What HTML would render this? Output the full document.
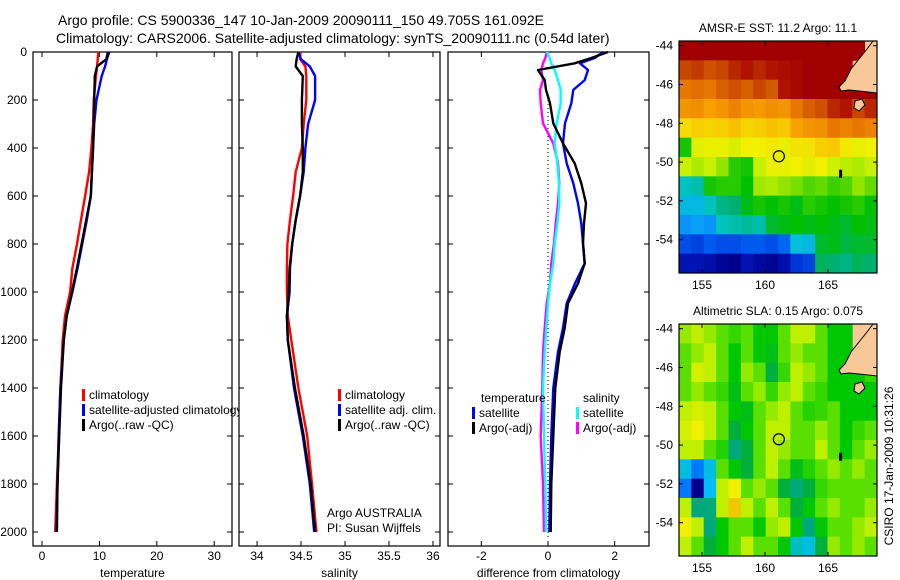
<!DOCTYPE html>
<html><head><meta charset="utf-8"><style>
html,body{margin:0;padding:0;background:#fff}
svg{display:block}
text{font-family:"Liberation Sans",sans-serif;fill:#000}
</style></head><body>
<svg id="fig" width="900" height="580" viewBox="0 0 900 580"></svg>
<script>
// ---------- DATA ----------
const profDepth = [0,30,60,100,200,300,400,500,600,700,800,900,1000,1100,1200,1400,1600,1800,2000];
const tempClim = [9.8,9.7,9.6,9.4,9.0,8.9,8.6,8.2,7.5,6.8,6.1,5.3,4.9,4.0,3.6,3.2,2.9,2.6,2.3];
const tempSat  = [11.7,11.3,11.0,10.4,9.5,9.1,8.9,8.7,8.5,7.8,7.0,6.2,5.3,4.3,3.8,3.2,2.9,2.7,2.5];
const tempArgo = [11.5,11.2,9.6,9.2,9.1,9.0,8.9,8.7,8.5,7.7,6.9,6.1,5.2,4.3,3.8,3.3,3.0,2.7,2.6];
const salClim = [34.49,34.49,34.55,34.56,34.56,34.53,34.51,34.44,34.41,34.375,34.345,34.34,34.34,34.35,34.39,34.47,34.57,34.625,34.675];
const salSat  = [34.47,34.5,34.6,34.66,34.66,34.58,34.55,34.53,34.49,34.44,34.40,34.375,34.37,34.34,34.35,34.42,34.52,34.6,34.65];
const salArgo = [34.47,34.45,34.44,34.52,34.51,34.51,34.52,34.52,34.49,34.44,34.40,34.37,34.36,34.34,34.35,34.43,34.53,34.61,34.66];
const diffDepth = [0,25,47,75,117,158,214,297,381,464,547,631,714,797,881,964,1047,1150,1250,1400,1600,1800,2000];
const dTempSat  = [1.65,1.4,0.96,1.2,1.1,0.76,0.7,0.51,0.45,0.56,0.76,0.9,1.0,1.05,1.1,0.81,0.56,0.45,0.3,0.16,0.1,0.06,0.04];
const dTempArgo = [1.8,1.3,0.8,-0.3,-0.1,-0.06,0.06,0.16,0.45,0.8,1.0,1.14,1.08,1.05,1.1,0.9,0.6,0.5,0.35,0.22,0.16,0.1,0.08];
const dSalSat   = [-0.03,0.05,0.1,0.2,0.3,0.38,0.38,0.26,0.2,0.28,0.33,0.34,0.28,0.2,0.16,0.06,0.0,-0.05,-0.1,-0.15,-0.12,-0.08,-0.06];
const dSalArgo  = [-0.03,-0.08,-0.15,-0.2,-0.15,-0.24,-0.22,-0.15,0.16,0.3,0.34,0.3,0.23,0.18,0.1,0.06,-0.04,-0.1,-0.15,-0.17,-0.22,-0.15,-0.12];
const depthTicks = [0,200,400,600,800,1000,1200,1400,1600,1800,2000];
const tempTicks = [0,10,20,30];
const salTicks = [34,34.5,35,35.5,36];
const salTickLabels = ["34","34.5","35","35.5","36"];
const diffTicks = [-2,0,2];
const lonTicks = [155,160,165];
const latTicks = [-44,-46,-48,-50,-52,-54];
const sstGrid = [
[12.6,12.6,12.6,12.5,12.6,12.6,12.5,12.6,12.6,12.6,12.6,12.6,12.6,12.6,12.6,null],
[11.0,11.2,10.8,11.0,11.5,11.8,11.5,11.8,12.0,12.2,12.5,12.6,12.6,12.6,null,null],
[10.0,10.2,10.0,10.5,10.8,10.5,11.0,10.6,11.8,12.2,12.5,12.6,12.6,12.5,12.5,12.5],
[9.5,9.6,9.3,9.5,9.8,9.5,9.4,9.6,9.5,10.0,10.5,10.8,11.5,11.8,11.0,11.5],
[8.4,8.6,8.5,8.6,8.8,8.5,8.6,8.8,8.7,9.3,9.5,9.6,10.0,9.8,10.0,9.8],
[6.5,7.9,8.0,8.0,7.8,8.1,8.1,8.2,8.0,8.3,8.3,8.6,8.7,8.2,8.0,8.1],
[7.6,7.4,7.6,7.2,6.6,6.5,7.6,8.0,8.0,8.1,7.9,8.1,7.7,7.5,7.4,7.6],
[5.5,5.6,6.5,6.6,6.6,6.4,7.3,7.4,7.2,7.0,6.8,6.9,6.7,6.8,7.2,6.9],
[5.2,5.2,5.5,5.8,5.9,6.3,6.5,6.4,6.5,6.3,6.6,6.5,6.4,6.5,6.6,6.4],
[4.8,4.9,4.8,5.5,5.6,5.7,5.6,6.2,6.3,6.4,6.3,6.4,6.3,6.2,6.4,6.3],
[4.2,4.1,4.3,4.2,4.2,4.3,4.3,4.2,4.4,5.3,5.2,6.2,6.3,6.1,6.2,6.2],
[3.6,3.6,3.5,3.3,3.2,3.6,3.4,3.3,3.5,4.0,4.1,6.0,5.9,5.8,6.0,5.9]
];
const slaGrid = [
[.08,.1,.08,.05,.03,.05,0,0,.05,.1,.1,.05,0,0,null,null],
[.05,.08,.1,.05,0,.05,0,-.02,.05,.08,.05,.05,0,0,null,null],
[.05,.12,.1,.05,0,.08,.05,-.05,.03,.1,.08,.05,0,0,0,.03],
[.05,.08,.05,.03,-.02,.05,.08,.03,.08,.1,.05,.03,0,0,0,0],
[.1,.12,.1,.05,0,-.02,.05,.08,.1,.05,.02,.03,.05,0,0,0],
[.12,.15,.1,.05,-.05,0,.05,.1,.1,.05,.05,.08,.05,0,.03,.05],
[.1,.1,.05,.02,-.1,-.05,.05,.1,.08,.05,.05,.1,.05,0,.05,.08],
[-.2,-.3,-.2,.05,0,-.05,.05,.1,.05,-.02,.02,.05,.08,.05,.08,.05],
[-.3,-.45,-.25,.1,.15,.05,.08,.05,-.05,-.1,-.05,.03,.05,.05,.05,.05],
[.1,-.1,-.1,.1,.2,.1,.05,.1,.05,-.05,0,.05,.08,.05,.05,.08],
[.15,.1,-.1,0,.05,.05,0,.08,.1,0,-.1,0,.05,.05,.08,.1],
[.1,.05,-.05,0,.05,.1,.05,.05,0,-.15,-.2,-.05,.08,.05,.08,.05]
];
const argoLon = [161.1];
const argoLat = [-49.7];

// ---------- HELPERS ----------
const NS="http://www.w3.org/2000/svg";
const svg=document.getElementById('fig');
function mk(tag,attrs,parent){const e=document.createElementNS(NS,tag);for(const k in attrs)e.setAttribute(k,attrs[k]);(parent||svg).appendChild(e);return e;}
function txt(s,x,y,anchor,size,parent){const t=mk('text',{x:x,y:y,'text-anchor':anchor||'start','font-size':size||12},parent);t.textContent=s;return t;}

const yTop=52, yPerUnit=48/200;
function yD(d){return yTop+d*yPerUnit;}
const panels=[
 {name:'temperature',x0:33,x1:232,vmin:-1.57,vmax:33.1},
 {name:'salinity',x0:239,x1:440,vmin:33.795,vmax:36.08},
 {name:'difference',x0:448,x1:649,vmin:-3.0,vmax:3.03}
];
function sx(p,v){return p.x0+(v-p.vmin)/(p.vmax-p.vmin)*(p.x1-p.x0);}
const yBot=546;

let t=txt('Argo profile: CS 5900336_147 10-Jan-2009 20090111_150 49.705S 161.092E',58,25,'start',14);


t=txt('Climatology: CARS2006. Satellite-adjusted climatology: synTS_20090111.nc (0.54d later)',56,43,'start',14);



function drawPanel(p,idx,xt,xtl,xlabel){
 const g=mk('g',{});
 
 
 const r=mk('rect',{x:p.x0,y:yTop,width:p.x1-p.x0,height:yBot-yTop,fill:'#fff',stroke:'#000','stroke-width':1.2},g);
 
 
 depthTicks.forEach(d=>{
  const y=yD(d);
  const a=mk('line',{x1:p.x0,x2:p.x0+5,y1:y,y2:y,stroke:'#000'},g);
  
  
  const b=mk('line',{x1:p.x1-5,x2:p.x1,y1:y,y2:y,stroke:'#000'},g);
  
  
  if(idx===0){const l=txt(String(d),27,y+4,'end',12,g);
   
   }
 });
 xt.forEach((v,i)=>{
  const x=sx(p,v);
  const a=mk('line',{x1:x,x2:x,y1:yTop,y2:yTop+5,stroke:'#000'},g);
  
  
  const b=mk('line',{x1:x,x2:x,y1:yBot-5,y2:yBot,stroke:'#000'},g);
  
  
  const l=txt(xtl[i],x,560,'middle',12,g);
  
  
 });
 const xl=txt(xlabel,(p.x0+p.x1)/2,577,'middle',12,g);
 
 
 return g;
}
function series(p,g,depths,vals,color,name,w){
 const pts=[];
 for(let i=0;i<vals.length;i++){
  pts.push(sx(p,vals[i]).toFixed(1)+','+yD(depths[i]).toFixed(1));
 }
 const l=mk('polyline',{points:pts.join(' '),fill:'none',stroke:color,'stroke-width':w||2.4,'stroke-linejoin':'round'},g);
 
 
}
function legend(g,x,y,color,label){
 const b=mk('rect',{x:x,y:y-9,width:3,height:12,fill:color},g);
 
 
 const l=txt(label,x+7,y+1,'start',12,g);
 
 
}

let p=panels[0];
let g=drawPanel(p,0,tempTicks,tempTicks.map(String),'temperature');
series(p,g,profDepth,tempClim,'#ff0000','temp-climatology-line');
series(p,g,profDepth,tempSat,'#0000ff','temp-satellite-line');
series(p,g,profDepth,tempArgo,'#000000','temp-argo-line');
legend(g,82,398,'#ff0000','climatology');
legend(g,82,413,'#0000ff','satellite-adjusted climatology');
legend(g,82,428,'#000000','Argo(..raw -QC)');

p=panels[1];
g=drawPanel(p,1,salTicks,salTickLabels,'salinity');
series(p,g,profDepth,salClim,'#ff0000','sal-climatology-line');
series(p,g,profDepth,salSat,'#0000ff','sal-satellite-line');
series(p,g,profDepth,salArgo,'#000000','sal-argo-line');
legend(g,338,398,'#ff0000','climatology');
legend(g,338,413,'#0000ff','satellite adj. clim.');
legend(g,338,428,'#000000','Argo(..raw -QC)');
t=txt('Argo AUSTRALIA',327,517,'start',12,g);


t=txt('PI: Susan Wijffels',327,532,'start',12,g);



p=panels[2];
g=drawPanel(p,2,diffTicks,diffTicks.map(String),'difference from climatology');
const zl=mk('line',{x1:sx(p,0),x2:sx(p,0),y1:yD(200),y2:yD(2030),stroke:'#000','stroke-width':1,'stroke-dasharray':'1,3'},g);


series(p,g,diffDepth,dSalArgo,'#ff00ff','sal-argo-diff-line');
series(p,g,diffDepth,dSalSat,'#00ffff','sal-satellite-diff-line');
series(p,g,diffDepth,dTempSat,'#0000ff','temp-satellite-diff-line');
series(p,g,diffDepth,dTempArgo,'#000000','temp-argo-diff-line');
t=txt('temperature',481,402,'start',12,g);


t=txt('salinity',583,402,'start',12,g);


legend(g,472,416,'#0000ff','satellite');
legend(g,472,431,'#000000','Argo(-adj)');
legend(g,576,416,'#00ffff','satellite');
legend(g,576,431,'#ff00ff','Argo(-adj)');

// ---------- MAPS ----------
const mapX0=679, mapW=198, mapH=232;
function lonX(lon){return 702+(lon-155)*12.6;}
function latY(top,lat){return top+4.7+(-44-lat)*19.4;}
function interp(stops,v){
 if(v<=stops[0][0])return 'rgb('+stops[0][1].join(',')+')';
 for(let i=1;i<stops.length;i++){
  if(v<=stops[i][0]){const a=stops[i-1],b=stops[i];const f=(v-a[0])/(b[0]-a[0]);
   return 'rgb('+[0,1,2].map(k=>Math.round(a[1][k]+(b[1][k]-a[1][k])*f)).join(',')+')';}
 }
 return 'rgb('+stops[stops.length-1][1].join(',')+')';
}
const sstStops=[[3.2,[0,0,140]],[3.8,[0,30,200]],[4.3,[0,90,240]],[4.9,[10,160,250]],[5.4,[0,200,210]],[5.9,[0,176,112]],[6.4,[0,192,0]],[7.0,[120,224,0]],[7.6,[200,240,0]],[8.1,[240,240,0]],[8.7,[248,200,0]],[9.3,[248,160,0]],[10.0,[230,120,0]],[11.0,[200,70,0]],[11.8,[176,20,0]],[12.5,[160,0,0]]];
const slaStops=[[-0.45,[0,0,140]],[-0.35,[0,50,255]],[-0.25,[0,190,255]],[-0.15,[0,190,190]],[-0.08,[0,160,96]],[0,[0,200,0]],[0.05,[90,224,0]],[0.1,[190,240,0]],[0.15,[240,240,0]],[0.2,[240,200,0]],[0.25,[240,160,0]]];
function drawMap(top,grid,stops,title,name){
 const g=mk('g',{});
 
 
 const tt=txt(title,mapX0+mapW/2,top-9,'middle',12,g);
 
 
 const bg=mk('rect',{x:mapX0,y:top,width:mapW,height:mapH,fill:'#f8c898'},g);
 
 
 const rows=grid.length, cols=grid[0].length, cw=mapW/cols, ch=mapH/rows;
 grid.forEach((row,r)=>row.forEach((v,c)=>{
  if(v===null)return;
  const cell=mk('rect',{x:(mapX0+c*cw).toFixed(2),y:(top+r*ch).toFixed(2),width:(cw+0.4).toFixed(2),height:(ch+0.4).toFixed(2),fill:interp(stops,v)},g);
  
  
 }));
 const lp=[[194,0],[198,0],[198,52],[180,50],[170,49],[162,50],[160,46],[166,40],[172,28],[180,18],[188,8]];
 const land=mk('polygon',{points:lp.map(q=>(mapX0+q[0])+','+(top+q[1])).join(' '),fill:'#f8c898',stroke:'#000','stroke-width':1},g);
 
 
 const isl=mk('polygon',{points:[[176,60],[183,58],[186,64],[180,70],[175,67]].map(q=>(mapX0+q[0])+','+(top+q[1])).join(' '),fill:'#f8c898',stroke:'#000'},g);
 
 
 const isl2=mk('rect',{x:lonX(166.0)-1.5,y:latY(top,-50.6)-4,width:3,height:8,fill:'#000'},g);
 
 
 const fr=mk('rect',{x:mapX0,y:top,width:mapW,height:mapH,fill:'none',stroke:'#000','stroke-width':1.2},g);
 
 
 lonTicks.forEach(lon=>{
  const x=lonX(lon);
  const a=mk('line',{x1:x,x2:x,y1:top,y2:top+4,stroke:'#000'},g);
  
  
  const b=mk('line',{x1:x,x2:x,y1:top+mapH-4,y2:top+mapH,stroke:'#000'},g);
  
  
  const l=txt(String(lon),x,top+mapH+16,'middle',12,g);
  
  
 });
 latTicks.forEach(lat=>{
  const y=latY(top,lat);
  const a=mk('line',{x1:mapX0,x2:mapX0+4,y1:y,y2:y,stroke:'#000'},g);
  
  
  const b=mk('line',{x1:mapX0+mapW-4,x2:mapX0+mapW,y1:y,y2:y,stroke:'#000'},g);
  
  
  const l=txt(String(lat),673,y+4,'end',12,g);
  
  
 });
 argoLon.forEach((lon,i)=>{
  const c=mk('circle',{cx:lonX(lon),cy:latY(top,argoLat[i]),r:5.5,fill:'none',stroke:'#000','stroke-width':1.2},g);
  
  
 });
}
drawMap(41,sstGrid,sstStops,'AMSR-E SST: 11.2 Argo: 11.1','sst-map');
drawMap(324,slaGrid,slaStops,'Altimetric SLA: 0.15 Argo: 0.075','sla-map');
t=txt('CSIRO 17-Jan-2009 10:31:26',0,0,'middle',12);
t.setAttribute('transform','translate(893,466) rotate(-90)');


</script>
</body></html>
